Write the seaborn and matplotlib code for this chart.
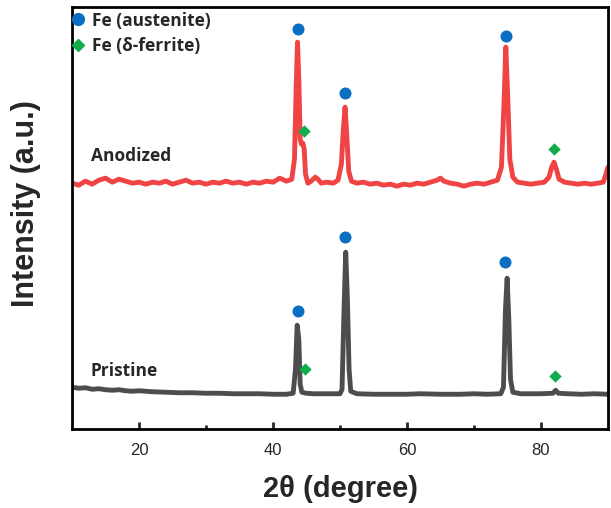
import matplotlib
matplotlib.use('Agg')
import matplotlib.pyplot as plt
import seaborn as sns
from matplotlib.lines import Line2D

# XRD patterns (intensity in a.u., offset stacked)
anod_x = [10, 11, 12, 13, 14, 15, 16, 17, 18, 19, 20, 21, 22, 23, 24, 25, 26, 27, 28, 29,
          30, 31, 32, 33, 34, 35, 36, 37, 38, 39, 40, 41, 42, 42.8, 43.2, 43.45, 43.65, 43.85,
          44.05, 44.25, 44.45, 44.65, 44.85, 45.2, 45.7, 46.3, 46.7, 47.2, 48, 49, 49.7, 50.2,
          50.5, 50.75, 51.0, 51.3, 51.7, 52.5, 53.5, 54.5, 55.5, 56.5, 57.5, 58.5, 59.5, 60.5,
          61.5, 62.5, 63.5, 64.5, 65, 65.5, 66.5, 67.5, 68.5, 69.5, 70.5, 71.5, 72.5, 73.5,
          74.1, 74.45, 74.75, 75.05, 75.35, 75.8, 76.5, 77.5, 78.5, 79.5, 80.5, 81.2, 81.6,
          81.95, 82.3, 82.7, 83.5, 84.5, 85.5, 86.5, 87.5, 88.5, 89.3, 89.7, 90]
anod_y = [246, 244, 248, 245, 249, 251, 247, 250, 248, 246, 247, 245, 247, 246, 248, 245, 247,
          249, 246, 247, 245, 247, 246, 248, 246, 247, 245, 247, 246, 248, 247, 251, 248, 250,
          270, 340, 387, 350, 290, 285, 286, 280, 255, 246, 248, 252, 250, 246, 247, 246, 249,
          265, 300, 322, 295, 258, 248, 246, 247, 245, 246, 244, 245, 243, 245, 244, 246, 245,
          247, 249, 251, 248, 246, 245, 243, 245, 246, 245, 247, 249, 262, 320, 382, 330, 270,
          252, 247, 246, 245, 246, 247, 252, 262, 267, 260, 250, 247, 246, 245, 246, 245, 246,
          247, 255, 262]

prist_x = [10, 11, 12, 13, 14, 15, 16, 17, 18, 19, 20, 22, 24, 26, 28, 30, 32, 34, 36, 38, 40,
           42, 43.0, 43.35, 43.6, 43.85, 44.05, 44.3, 45, 46, 48, 50, 50.3, 50.6, 50.85, 51.1,
           51.35, 51.6, 52.5, 55, 58, 60, 62, 65, 68, 70, 72, 74, 74.4, 74.7, 74.95, 75.2,
           75.45, 75.8, 77, 80, 81.8, 82.2, 82.6, 84, 86, 88, 90]
prist_y = [42, 41, 41.5, 40, 40.5, 39.5, 39, 39.5, 38.5, 38, 38.5, 37.5, 37, 36.5, 36.5, 36, 36,
           35.5, 35.5, 35.5, 35, 35, 36, 60, 104, 90, 45, 37, 36, 35.5, 35.5, 35.5, 40, 120,
           177, 130, 60, 38, 35.5, 35, 35, 35, 35.5, 35, 35, 35.5, 35, 35.5, 42, 120, 151, 110,
           50, 37, 35.5, 35.5, 36, 39, 36, 35.5, 35, 35.5, 35]

# phase markers
anod_aus_x = [43.7, 50.7, 74.8]
anod_aus_y = [400, 336, 393]
anod_fer_x = [44.65, 82.0]
anod_fer_y = [298, 280]
prist_aus_x = [43.7, 50.7, 74.7]
prist_aus_y = [118, 192, 167]
prist_fer_x = [44.8, 82.1]
prist_fer_y = [60, 53]

red = '#F04343'
gray = '#4D4D4D'
blue = '#0A6FC2'
green = '#11AD4B'
txt_font = ['Open Sans', 'DejaVu Sans']

sns.set_style('ticks')
plt.rcParams['font.family'] = ['Liberation Sans', 'DejaVu Sans']

fig = plt.figure(figsize=(6.11, 5.08), dpi=100)
ax = fig.add_axes([0.118, 0.155, 0.877, 0.831])

sns.lineplot(x=anod_x, y=anod_y, ax=ax, color=red, lw=3.5, estimator=None)
sns.lineplot(x=prist_x, y=prist_y, ax=ax, color=gray, lw=3.5, estimator=None)

for xs, ys in [(anod_aus_x, anod_aus_y), (prist_aus_x, prist_aus_y)]:
    sns.scatterplot(x=xs, y=ys, ax=ax, color=blue, marker='o', s=75, linewidth=0, zorder=5)
for xs, ys in [(anod_fer_x, anod_fer_y), (prist_fer_x, prist_fer_y)]:
    sns.scatterplot(x=xs, y=ys, ax=ax, color=green, marker='D', s=40, linewidth=0, zorder=5)

ax.text(12.8, 273, 'Anodized', fontsize=12.5, fontweight='bold', family=txt_font, va='center')
ax.text(12.8, 58, 'Pristine', fontsize=12.5, fontweight='bold', family=txt_font, va='center')

handles = [Line2D([], [], ls='', marker='o', color=blue, markersize=8.5),
           Line2D([], [], ls='', marker='D', color=green, markersize=6)]
ax.legend(handles, ['Fe (austenite)', 'Fe (δ-ferrite)'], loc='upper left',
          bbox_to_anchor=(-0.022, 1.01), frameon=False, handletextpad=0.35,
          handlelength=1.0, borderaxespad=0.1, labelspacing=0.45,
          prop={'family': txt_font, 'weight': 'bold', 'size': 12.5})

ax.set_xlim(10, 90)
ax.set_ylim(0, 422)
ax.set_xticks([20, 40, 60, 80])
ax.set_xticks([30, 50, 70], minor=True)
ax.set_yticks([])
ax.tick_params(axis='x', which='major', direction='in', length=5, width=2, labelsize=12, pad=10)
ax.tick_params(axis='x', which='minor', direction='in', length=3, width=2)
for sp in ax.spines.values():
    sp.set_linewidth(2)
    sp.set_color('black')

ax.set_xlabel('2θ (degree)', fontsize=21, fontweight='bold', labelpad=12)
ax.set_ylabel('Intensity (a.u.)', fontsize=22, fontweight='bold')
ax.yaxis.set_label_coords(-0.058, 0.535)

fig.savefig('out.png', dpi=100)
